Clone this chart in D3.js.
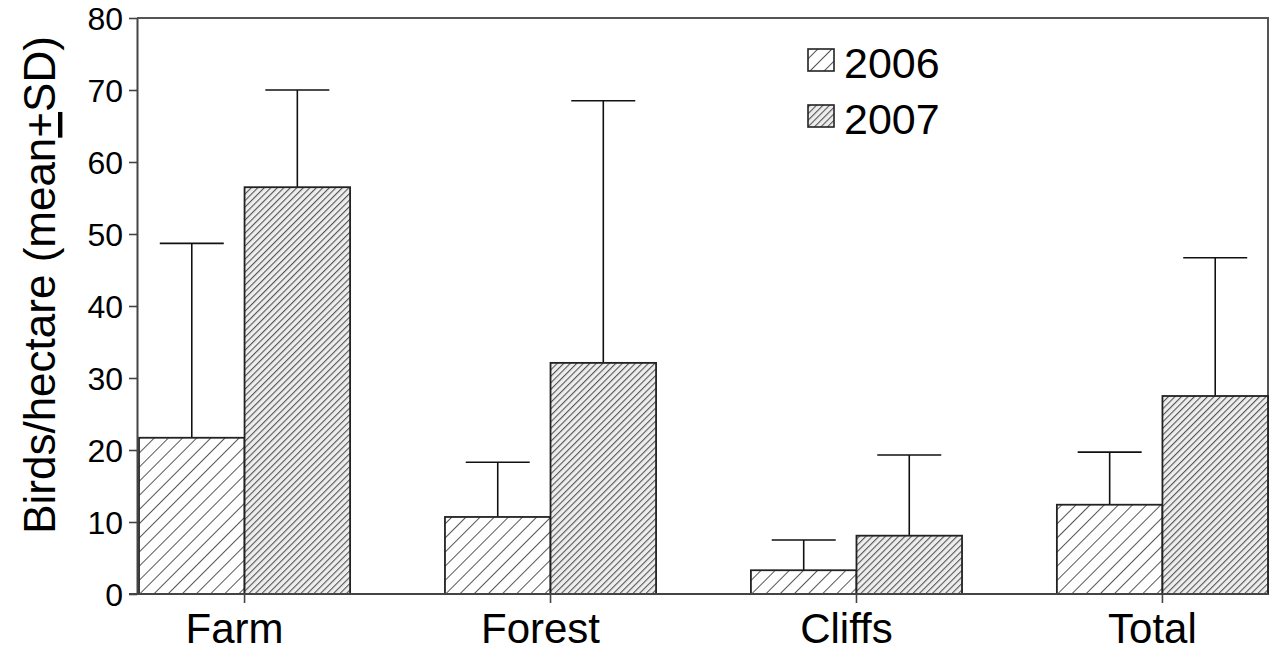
<!DOCTYPE html>
<html>
<head>
<meta charset="utf-8">
<script src="https://cdn.jsdelivr.net/npm/d3@7/dist/d3.min.js"></script>
<style>
  body { margin: 0; background: #fff; }
  text { font-family: "Liberation Sans", Arial, sans-serif; fill: #000; }
</style>
</head>
<body>
<div id="chart"></div>
<script>
// data
const categories = ['Farm', 'Forest', 'Cliffs', 'Total'];
const years = ['2006', '2007'];
const mean2006 = [21.7, 10.7, 3.3, 12.4];
const mean2007 = [56.5, 32.1, 8.1, 27.5];
const sd2006 = [27.0, 7.6, 4.2, 7.3];
const sd2007 = [13.5, 36.4, 11.2, 19.2];
const yTicks = [0, 10, 20, 30, 40, 50, 60, 70, 80];

const width = 1273, height = 652;
const margin = {top: 18, right: 5, bottom: 58, left: 137};

const svg = d3.select('#chart').append('svg')
    .attr('width', width)
    .attr('height', height);

const defs = svg.append('defs');

// wide hatch for 2006, dense hatch for 2007
function hatch(id, gap, w, bg, fg) {
    const p = defs.append('pattern')
        .attr('id', id)
        .attr('patternUnits', 'userSpaceOnUse')
        .attr('width', gap)
        .attr('height', gap)
        .attr('patternTransform', 'rotate(45)');
    p.append('rect').attr('width', gap).attr('height', gap).attr('fill', bg);
    p.append('line')
        .attr('x1', 0).attr('y1', 0).attr('x2', 0).attr('y2', gap)
        .attr('stroke', fg).attr('stroke-width', w);
}
hatch('h2006', 10, 1.8, '#fff', '#444');
hatch('h2007', 4.6, 2.2, '#eee', '#555');

const y = d3.scaleLinear()
    .domain([0, 80])
    .range([height - margin.bottom, margin.top]);

const x0 = d3.scaleBand()
    .domain(categories)
    .range([139, width - margin.right])
    .paddingInner(0.31)
    .paddingOuter(0);

const x1 = d3.scaleBand()
    .domain(years)
    .range([0, x0.bandwidth()]);

const rows = categories.map((c, i) => ({
    cat: c,
    vals: [
        {year: '2006', mean: mean2006[i], sd: sd2006[i]},
        {year: '2007', mean: mean2007[i], sd: sd2007[i]}
    ]
}));

// frame (top and right)
svg.append('path')
    .attr('d', 'M' + margin.left + ',' + margin.top + 'H' + (width - margin.right) + 'V' + y(0))
    .attr('fill', 'none')
    .attr('stroke', '#555')
    .attr('stroke-width', 2);

const groups = svg.selectAll('.grp')
    .data(rows)
    .enter().append('g')
    .attr('class', 'grp')
    .attr('transform', (d) => 'translate(' + x0(d.cat) + ',0)');

const bars = groups.selectAll('.bar')
    .data((d) => d.vals)
    .enter().append('g')
    .attr('class', 'bar');

// error bars
bars.append('line')
    .attr('x1', (d) => x1(d.year) + x1.bandwidth() / 2)
    .attr('x2', (d) => x1(d.year) + x1.bandwidth() / 2)
    .attr('y1', (d) => y(d.mean))
    .attr('y2', (d) => y(d.mean + d.sd))
    .attr('stroke', '#111')
    .attr('stroke-width', 1.6);

bars.append('line')
    .attr('x1', (d) => x1(d.year) + x1.bandwidth() / 2 - 32)
    .attr('x2', (d) => x1(d.year) + x1.bandwidth() / 2 + 32)
    .attr('y1', (d) => y(d.mean + d.sd))
    .attr('y2', (d) => y(d.mean + d.sd))
    .attr('stroke', '#111')
    .attr('stroke-width', 1.6);

bars.append('rect')
    .attr('x', (d) => x1(d.year))
    .attr('y', (d) => y(d.mean))
    .attr('width', x1.bandwidth())
    .attr('height', (d) => y(0) - y(d.mean))
    .attr('fill', (d) => 'url(#h' + d.year + ')')
    .attr('stroke', '#222')
    .attr('stroke-width', 1.8);

// y axis
const yAxis = svg.append('g')
    .attr('transform', 'translate(' + margin.left + ',0)')
    .call(d3.axisLeft(y).tickValues(yTicks).tickSize(8).tickPadding(6).tickSizeOuter(0));
yAxis.select('.domain').attr('stroke', '#444').attr('stroke-width', 2);
yAxis.selectAll('.tick line').attr('stroke', '#444').attr('stroke-width', 1.6);
yAxis.selectAll('.tick text').style('font-size', '32px').attr('dy', '0.36em');

// x axis: line along 0 with ticks at group centres
const xAxis = svg.append('g')
    .attr('transform', 'translate(0,' + y(0) + ')');
xAxis.append('line')
    .attr('x1', margin.left - 8)
    .attr('x2', width - margin.right)
    .attr('stroke', '#444')
    .attr('stroke-width', 2);
xAxis.selectAll('.xt')
    .data(categories)
    .enter().append('line')
    .attr('x1', (d) => x0(d) + x0.bandwidth() / 2)
    .attr('x2', (d) => x0(d) + x0.bandwidth() / 2)
    .attr('y1', 0)
    .attr('y2', 9)
    .attr('stroke', '#444')
    .attr('stroke-width', 1.6);
xAxis.selectAll('.xl')
    .data(categories)
    .enter().append('text')
    .attr('x', (d) => x0(d) + x0.bandwidth() / 2 - 10)
    .attr('y', 49)
    .attr('text-anchor', 'middle')
    .style('font-size', '42px')
    .text((d) => d);

// y label with underlined plus (±)
const ylab = svg.append('text')
    .attr('transform', 'translate(55,285) rotate(-90)')
    .attr('text-anchor', 'middle')
    .style('font-size', '44px');
ylab.append('tspan').text('Birds/hectare (mean');
ylab.append('tspan').style('text-decoration', 'underline').text('+');
ylab.append('tspan').text('SD)');

// legend
const legend = svg.append('g')
    .attr('transform', 'translate(808,44)');
const li = legend.selectAll('.li')
    .data(years)
    .enter().append('g')
    .attr('transform', (d, i) => 'translate(0,' + i * 56 + ')');
li.append('rect')
    .attr('y', 5)
    .attr('width', 26)
    .attr('height', 22)
    .attr('fill', (d) => 'url(#h' + d + ')')
    .attr('stroke', '#222')
    .attr('stroke-width', 1.6);
li.append('text')
    .attr('x', 36)
    .attr('y', 34)
    .style('font-size', '43px')
    .text((d) => d);
</script>
</body>
</html>
